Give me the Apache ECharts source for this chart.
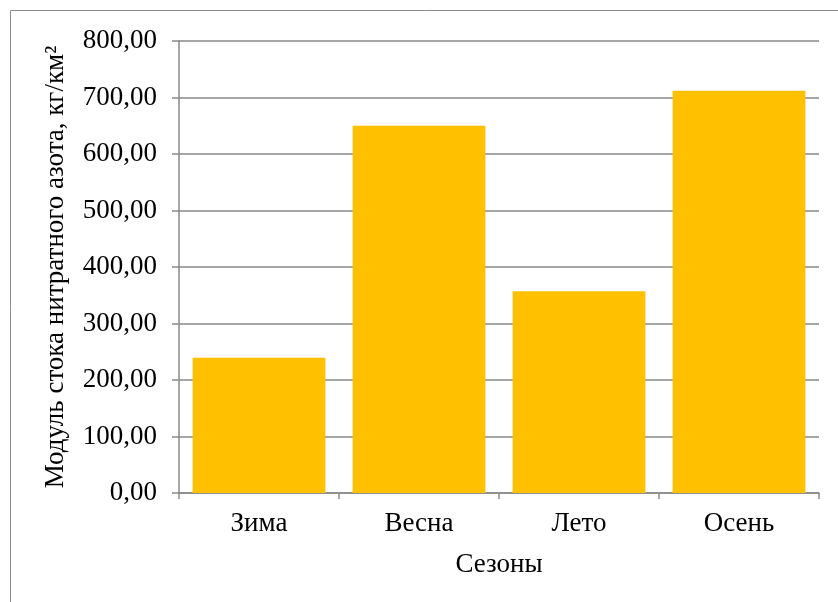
<!DOCTYPE html>
<html>
<head>
<meta charset="utf-8">
<script src="https://cdn.jsdelivr.net/npm/echarts@6/dist/echarts.min.js"></script>
<style>
  html, body { margin: 0; padding: 0; background: #fff; }
  #chart { width: 838px; height: 602px; }
</style>
</head>
<body>
<div id="chart"></div>
<script>
// Seasonal nitrate nitrogen runoff modulus, kg/km²
const seasons = ['Зима', 'Весна', 'Лето', 'Осень'];
const runoffModulus = [239.5, 650, 357, 712];
const yTicks = [0, 100, 200, 300, 400, 500, 600, 700, 800];
const yAxisTitle = 'Модуль стока нитратного азота, кг/км²';
const xAxisTitle = 'Сезоны';

const font = '"Liberation Serif", "Times New Roman", serif';
const axisGray = '#898989';

const chart = echarts.init(document.getElementById('chart'), null, { renderer: 'canvas' });

chart.setOption({
  animation: false,
  backgroundColor: '#ffffff',
  graphic: [{
    type: 'rect',
    shape: { x: 10.5, y: 10.5, width: 900, height: 700 },
    style: { fill: 'none', stroke: '#8a8a8a', lineWidth: 1 },
    silent: true
  }],
  grid: { left: 179, right: 19, top: 41, bottom: 109, containLabel: false },
  xAxis: {
    type: 'category',
    data: seasons,
    name: xAxisTitle,
    nameLocation: 'middle',
    nameGap: 58,
    nameTextStyle: { fontFamily: font, fontSize: 27, color: '#000' },
    axisLine: { lineStyle: { color: axisGray, width: 1.5 } },
    axisTick: { show: true, length: 6, lineStyle: { color: axisGray, width: 1.5 } },
    axisLabel: { fontFamily: font, fontSize: 27, color: '#000', margin: 17 },
    splitLine: { show: false }
  },
  yAxis: {
    type: 'value',
    min: yTicks[0],
    max: yTicks[yTicks.length - 1],
    interval: yTicks[1] - yTicks[0],
    name: yAxisTitle,
    nameLocation: 'middle',
    nameRotate: 90,
    nameGap: 110,
    nameTextStyle: { fontFamily: font, fontSize: 27, color: '#000' },
    axisLine: { show: true, lineStyle: { color: axisGray, width: 1.5 } },
    axisTick: { show: true, inside: false, length: 7, lineStyle: { color: axisGray, width: 1.5 } },
    axisLabel: {
      fontFamily: font, fontSize: 27, color: '#000', margin: 22,
      formatter: v => v.toFixed(2).replace('.', ',')
    },
    splitLine: { show: true, lineStyle: { color: axisGray, width: 1.5 } }
  },
  series: [{
    type: 'bar',
    data: runoffModulus,
    barCategoryGap: '17%',
    itemStyle: { color: '#FFC000' }
  }]
});
</script>
</body>
</html>
